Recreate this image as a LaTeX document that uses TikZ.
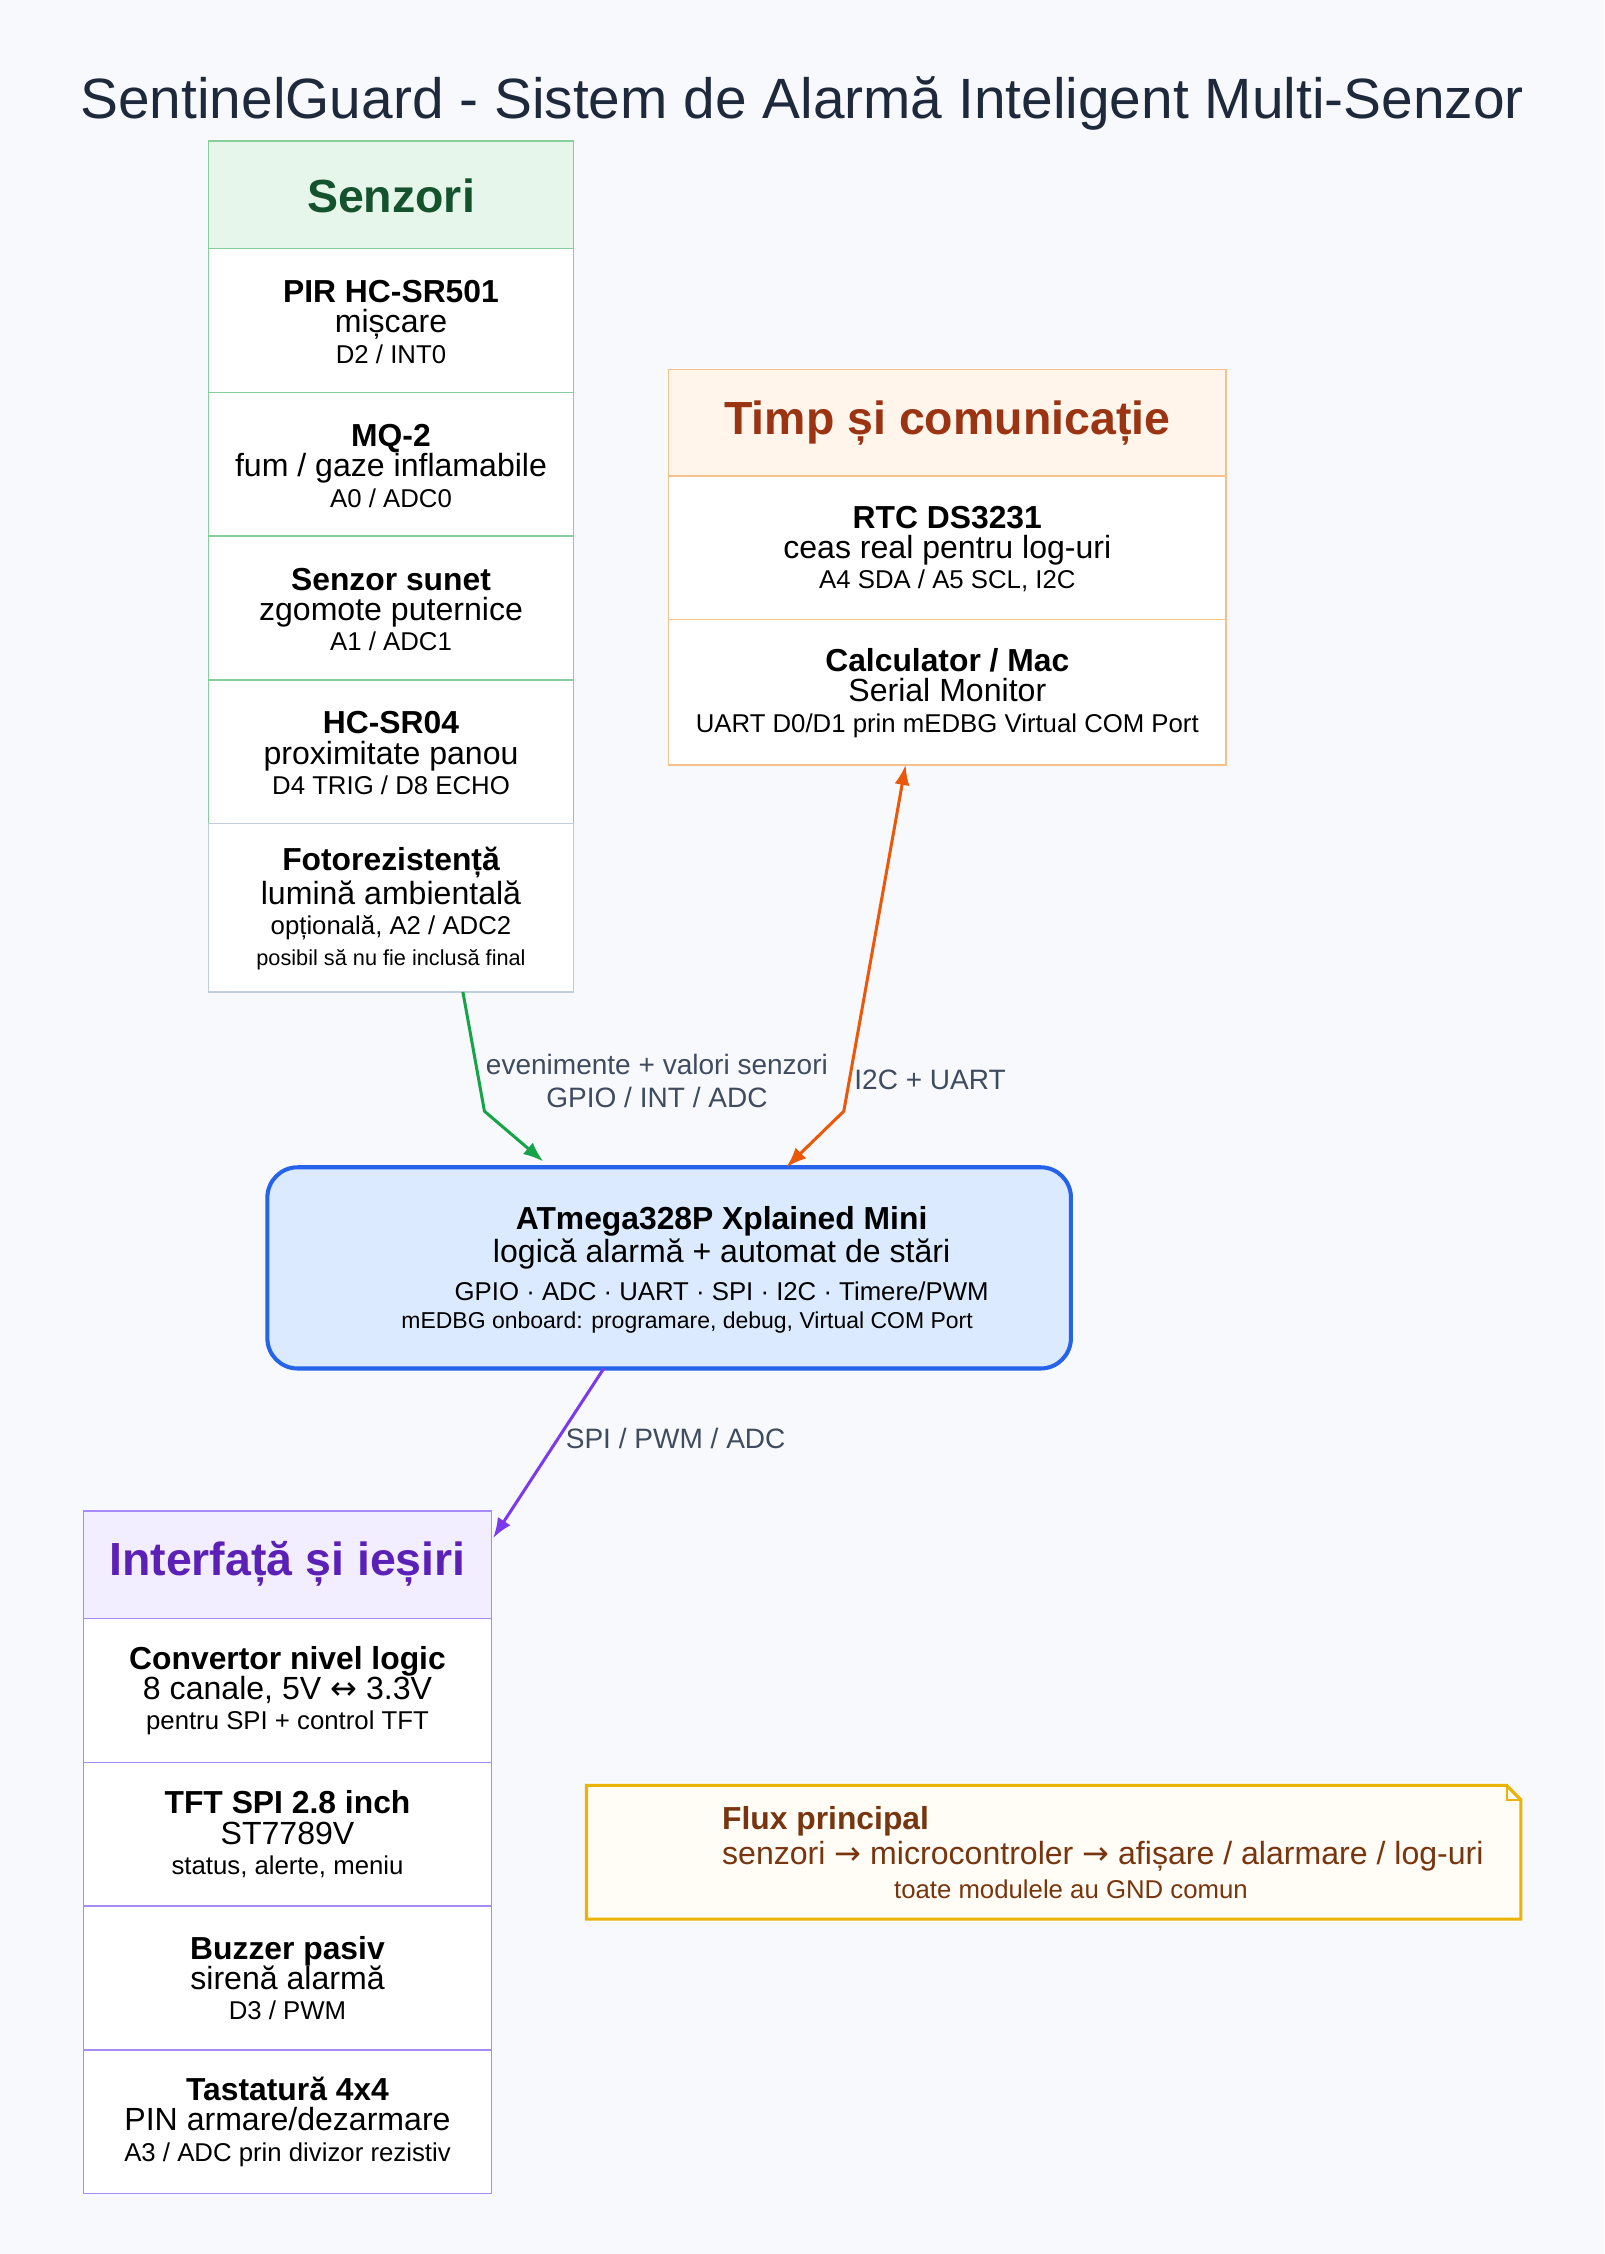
\documentclass[tikz,border=0pt]{standalone}
\usepackage{fontspec}
\setmainfont{Liberation Sans}
\newfontfamily\arrf{DejaVu Sans}
\usetikzlibrary{arrows.meta}
\definecolor{bg}{HTML}{F7F9FC}
\definecolor{tcol}{HTML}{1E293B}
\definecolor{gline}{HTML}{86CF9A}
\definecolor{gfill}{HTML}{E7F6EA}
\definecolor{gtext}{HTML}{14532D}
\definecolor{sline}{HTML}{BFCEDD}
\definecolor{oline}{HTML}{F8C08C}
\definecolor{ofill}{HTML}{FFF5EB}
\definecolor{otext}{HTML}{9A3412}
\definecolor{pline}{HTML}{A78BFA}
\definecolor{pfill}{HTML}{F3EEFF}
\definecolor{ptext}{HTML}{5B21B6}
\definecolor{bline}{HTML}{2563EB}
\definecolor{bfill}{HTML}{DBEAFE}
\definecolor{nline}{HTML}{EAB308}
\definecolor{nfill}{HTML}{FFFDF5}
\definecolor{ntext}{HTML}{78350F}
\definecolor{lab}{HTML}{3F4B5E}
\definecolor{agreen}{HTML}{16A34A}
\definecolor{aorange}{HTML}{EA580C}
\definecolor{apurple}{HTML}{7C3AED}
\newcommand\Lb[1]{{\fontsize{12.6}{13.5}\selectfont\bfseries #1}}
\newcommand\Ln[1]{{\fontsize{12.7}{12}\selectfont #1}}
\newcommand\Ls[1]{{\fontsize{10.2}{11}\selectfont #1}}
\newcommand\Lt[1]{{\fontsize{8.6}{9.5}\selectfont #1}}
\newcommand\ar[1]{{\arrf #1}}
\begin{document}
\begin{tikzpicture}[x=0.02cm,y=-0.02cm,
  box/.style={draw,line width=0.6pt,inner sep=0pt},
  txt/.style={align=center,inner sep=0pt,text=black},
  hdr/.style={font=\fontsize{18.4}{20}\selectfont\bfseries},
  lbl/.style={text=lab,font=\fontsize{11.1}{13}\selectfont,align=center},
  arr/.style={line width=1.2pt,-{Latex[length=8pt,width=6pt]}}]
\fill[bg] (0,0) rectangle (1116,1568);
\useasboundingbox (0,0) rectangle (1116,1568);
\node[text=tcol,font=\fontsize{22.5}{26}\selectfont] (title) at (558,72) {SentinelGuard - Sistem de Alarmă Inteligent Multi-Senzor};
% Senzori
\draw[box,gline,fill=gfill] (145,98) rectangle (399,173);
\node[hdr,text=gtext] (hs) at (272,136) {Senzori};
\foreach \y in {173,273,373,473}{\draw[box,gline,fill=white] (145,\y) rectangle (399,\y+100);}
\draw[box,sline,fill=white] (145,573) rectangle (399,690);
\node[txt] (s1) at (272,224) {\Lb{PIR HC-SR501}\\\Ln{mișcare}\\\Ls{D2 / INT0}};
\node[txt] (s2) at (272,324) {\Lb{MQ-2}\\\Ln{fum / gaze inflamabile}\\\Ls{A0 / ADC0}};
\node[txt] (s3) at (272,424) {\Lb{Senzor sunet}\\\Ln{zgomote puternice}\\\Ls{A1 / ADC1}};
\node[txt] (s4) at (272,524) {\Lb{HC-SR04}\\\Ln{proximitate panou}\\\Ls{D4 TRIG / D8 ECHO}};
\node[txt] (s5) at (272,632) {\Lb{Fotorezistență}\\\Ln{lumină ambientală}\\\Ls{opțională, A2 / ADC2}\\\Lt{posibil să nu fie inclusă final}};
% Timp
\draw[box,oline,fill=ofill] (465,257) rectangle (853,331);
\node[hdr,text=otext] (ht) at (659,294) {Timp și comunicație};
\draw[box,oline,fill=white] (465,331) rectangle (853,431);
\draw[box,oline,fill=white] (465,431) rectangle (853,532);
\node[txt] (t1) at (659,382) {\Lb{RTC DS3231}\\\Ln{ceas real pentru log-uri}\\\Ls{A4 SDA / A5 SCL, I2C}};
\node[txt] (t2) at (659,482) {\Lb{Calculator / Mac}\\\Ln{Serial Monitor}\\\Ls{UART D0/D1 prin mEDBG Virtual COM Port}};
% MCU
\draw[line width=1.6pt,bline,fill=bfill,rounded corners=12] (186,812) rectangle (745,952);
\node[txt] (mcu) at (502,872) {\Lb{ATmega328P Xplained Mini}\\\Ln{logică alarmă + automat de stări}\\[3pt]\Ls{GPIO · ADC · UART · SPI · I2C · Timere/PWM}};
\node[txt] (mcu2) at (478,920) {{\fontsize{9.1}{10}\selectfont mEDBG onboard: programare, debug, Virtual COM Port}};
% Interfata
\draw[box,pline,fill=pfill] (58,1051) rectangle (342,1126);
\node[hdr,text=ptext] (hi) at (200,1088) {Interfață și ieșiri};
\foreach \y in {1126,1226,1326,1426}{\draw[box,pline,fill=white] (58,\y) rectangle (342,\y+100);}
\node[txt] (i1) at (200,1176) {\Lb{Convertor nivel logic}\\\Ln{8 canale, 5V \ar{↔} 3.3V}\\\Ls{pentru SPI + control TFT}};
\node[txt] (i2) at (200,1276) {\Lb{TFT SPI 2.8 inch}\\\Ln{ST7789V}\\\Ls{status, alerte, meniu}};
\node[txt] (i3) at (200,1376) {\Lb{Buzzer pasiv}\\\Ln{sirenă alarmă}\\\Ls{D3 / PWM}};
\node[txt] (i4) at (200,1476) {\Lb{Tastatură 4x4}\\\Ln{PIN armare/dezarmare}\\\Ls{A3 / ADC prin divizor rezistiv}};
% Note
\draw[line width=1.2pt,nline,fill=nfill] (408,1242) -- (1048,1242) -- (1058,1252) -- (1058,1335) -- (408,1335) -- cycle;
\draw[line width=0.8pt,nline] (1048,1242) -- (1048,1252) -- (1058,1252);
\node[anchor=west,inner sep=0pt,text=ntext] (n1) at (502,1267) {\Lb{Flux principal}};
\node[anchor=west,inner sep=0pt,text=ntext] (n2) at (502,1291) {\Ln{senzori \ar{→} microcontroler \ar{→} afișare / alarmare / log-uri}};
\node[inner sep=0pt,text=ntext] (n3) at (745,1314) {\Ls{toate modulele au GND comun}};
% Connectors
\coordinate (ga) at (322,690); \coordinate (gb) at (337,773); \coordinate (gc) at (378,808);
\draw[arr,agreen] (ga) -- (gb) -- (gc);
\node[lbl] (l1) at (457,752) {evenimente + valori senzori\\GPIO / INT / ADC};
\coordinate (oa) at (630,532); \coordinate (ob) at (587,773); \coordinate (oc) at (547,812);
\draw[arr,aorange,{Latex[length=8pt,width=6pt]}-{Latex[length=8pt,width=6pt]}] (oa) -- (ob) -- (oc);
\node[lbl] (l2) at (647,751) {I2C + UART};
\coordinate (pa) at (420,952); \coordinate (pb) at (343,1070);
\draw[arr,apurple] (pa) -- (pb);
\node[lbl] (l3) at (470,1001) {SPI / PWM / ADC};
\end{tikzpicture}
\end{document}
